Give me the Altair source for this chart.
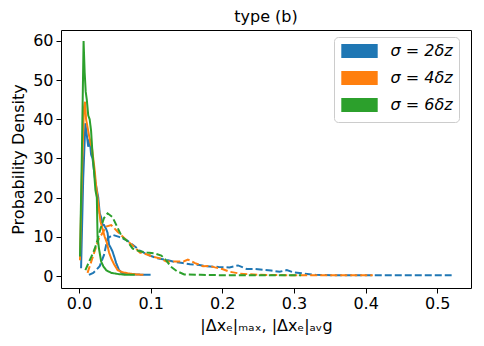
import altair as alt
import pandas as pd

series_names = ["σ = 2δz", "σ = 4δz", "σ = 6δz"]
colors = ["#1f77b4", "#ff7f0e", "#2ca02c"]

# solid: |dx_e|_avg ; dashed: |dx_e|_max
avg2_x = [0.003, 0.006, 0.009, 0.011, 0.013, 0.015, 0.017, 0.019, 0.021, 0.023, 0.025, 0.027, 0.029, 0.031, 0.033, 0.035, 0.038, 0.040, 0.042, 0.045, 0.047, 0.050, 0.052, 0.056, 0.060, 0.065, 0.070, 0.080, 0.090, 0.100]
avg2_y = [2, 25, 39, 36, 33, 35, 31, 30, 27, 24, 22, 20, 16, 15, 13, 13, 12, 11, 8, 7, 6.2, 4.5, 3.3, 1.5, 0.8, 0.6, 0.5, 0.4, 0.3, 0.3]

avg4_x = [0.0015, 0.004, 0.007, 0.0085, 0.010, 0.012, 0.014, 0.016, 0.018, 0.020, 0.022, 0.024, 0.026, 0.028, 0.030, 0.033, 0.036, 0.039, 0.042, 0.045, 0.049, 0.054, 0.060, 0.068, 0.080, 0.090]
avg4_y = [4, 25, 43, 44.5, 40, 38, 36, 34, 33, 30, 27, 23, 20, 17, 14, 12, 10, 8.5, 6, 4.5, 3, 1.5, 1, 0.7, 0.4, 0.3]

avg6_x = [0.0015, 0.004, 0.0065, 0.008, 0.0095, 0.011, 0.013, 0.015, 0.017, 0.019, 0.021, 0.023, 0.025, 0.026, 0.028, 0.031, 0.034, 0.038, 0.045, 0.055, 0.065, 0.078]
avg6_y = [5, 30, 60, 52, 47, 45, 41, 40, 37, 31, 27, 22, 20, 10, 7, 3.7, 2.5, 1.5, 0.8, 0.5, 0.3, 0.3]

max2_x = [0.014, 0.020, 0.024, 0.029, 0.035, 0.040, 0.047, 0.056, 0.066, 0.075, 0.085, 0.095, 0.108, 0.120, 0.131, 0.145, 0.155, 0.168, 0.178, 0.195, 0.210, 0.222, 0.234, 0.245, 0.257, 0.268, 0.280, 0.290, 0.300, 0.315, 0.330, 0.360, 0.400, 0.450, 0.520]
max2_y = [0.3, 0.8, 1.5, 2.5, 5.4, 9.6, 10.5, 10, 9.2, 8, 6.5, 5.5, 4.6, 4.2, 3.7, 3.3, 3, 2.8, 2.5, 2.3, 2.2, 2.7, 1.8, 1.8, 1.6, 1.4, 1.1, 1.5, 0.9, 0.6, 0.3, 0.2, 0.2, 0.2, 0.2]

max4_x = [0.012, 0.016, 0.021, 0.028, 0.033, 0.038, 0.045, 0.054, 0.066, 0.077, 0.085, 0.095, 0.104, 0.113, 0.122, 0.134, 0.146, 0.152, 0.162, 0.173, 0.182, 0.190, 0.200, 0.210, 0.225, 0.250, 0.300, 0.350, 0.410]
max4_y = [0.8, 3, 5.8, 9.6, 11, 12.6, 13, 11.3, 9.2, 7.5, 6, 5.5, 4.9, 4.5, 3.7, 3.7, 3.7, 4.2, 3.3, 2.5, 2.6, 2.2, 1.8, 1.1, 0.6, 0.3, 0.2, 0.2, 0.2]

max6_x = [0.009, 0.015, 0.020, 0.024, 0.030, 0.035, 0.040, 0.047, 0.054, 0.060, 0.067, 0.075, 0.085, 0.095, 0.105, 0.115, 0.122, 0.128, 0.137, 0.147, 0.170, 0.200, 0.250, 0.310]
max6_y = [1.5, 4, 6, 8, 12, 14.8, 16, 15, 12.3, 10, 9, 7, 6.3, 6, 5.8, 5.2, 4, 2.4, 1.2, 0.4, 0.3, 0.2, 0.2, 0.2]

x_ticks = [0.0, 0.1, 0.2, 0.3, 0.4, 0.5]
y_ticks = [0, 10, 20, 30, 40, 50, 60]

rows = []
sets = [
    (series_names[0], "avg", avg2_x, avg2_y, 0),
    (series_names[0], "max", max2_x, max2_y, 1),
    (series_names[1], "avg", avg4_x, avg4_y, 2),
    (series_names[1], "max", max4_x, max4_y, 3),
    (series_names[2], "avg", avg6_x, avg6_y, 4),
    (series_names[2], "max", max6_x, max6_y, 5),
]
for name, kind, xs, ys, k in sets:
    for xv, yv in zip(xs, ys):
        rows.append({"series": name, "kind": kind, "grp": k, "x": xv, "y": yv})
df = pd.DataFrame(rows)

# legend patch: a stack of thin horizontal strokes forming a filled rectangle
patch_path = "".join(f"M-2.6,{v}H2.6" for v in [-0.86, -0.64, -0.43, -0.21, 0, 0.21, 0.43, 0.64, 0.86])

chart = alt.Chart(df).mark_line(strokeWidth=2).encode(
    x=alt.X("x:Q", scale=alt.Scale(domain=[-0.025, 0.547], nice=False, zero=False),
            axis=alt.Axis(values=x_ticks, format=".1f",
                          title="|Δxₑ|ₘₐₓ, |Δxₑ|ₐᵥg")),
    y=alt.Y("y:Q", scale=alt.Scale(domain=[-3.06, 62.8], nice=False, zero=False),
            axis=alt.Axis(values=y_ticks, format="d", title="Probability Density")),
    color=alt.Color("series:N", scale=alt.Scale(domain=series_names, range=colors),
                    legend=alt.Legend(
                        title=None, orient="none", legendX=273, legendY=7,
                        symbolType=patch_path, symbolSize=196, symbolStrokeWidth=2,
                        symbolDash=[1, 0], symbolOffset=11.5, labelOffset=23,
                        labelFont="DejaVu Sans", labelFontSize=16, labelFontStyle="italic",
                        labelColor="black", rowPadding=5, padding=6,
                        strokeColor="#cccccc", fillColor="white", cornerRadius=4)),
    strokeDash=alt.StrokeDash("kind:N", scale=alt.Scale(domain=["avg", "max"], range=[[1, 0], [7, 3]]),
                              legend=None),
    detail="grp:N",
    order=alt.Order("x:Q"),
).properties(
    width=410, height=258,
    title=alt.TitleParams("type (b)", fontSize=16, fontWeight="normal", font="DejaVu Sans",
                          color="black", offset=5),
    autosize=alt.AutoSizeParams(type="none"),
    padding={"left": 53, "top": 22, "right": 5, "bottom": 50},
).configure_view(
    stroke="black", strokeWidth=1
).configure_axis(
    grid=False, domain=False, tickColor="black", tickSize=5, tickWidth=1,
    labelFont="DejaVu Sans", labelFontSize=16, labelColor="black", labelPadding=3,
    titleFont="DejaVu Sans", titleFontSize=16, titleFontWeight="normal", titleColor="black",
).configure_axisY(titlePadding=6).configure_axisX(titlePadding=6, labelPadding=2)

chart.save("out.html", embed_options={"renderer": "svg", "actions": False})
